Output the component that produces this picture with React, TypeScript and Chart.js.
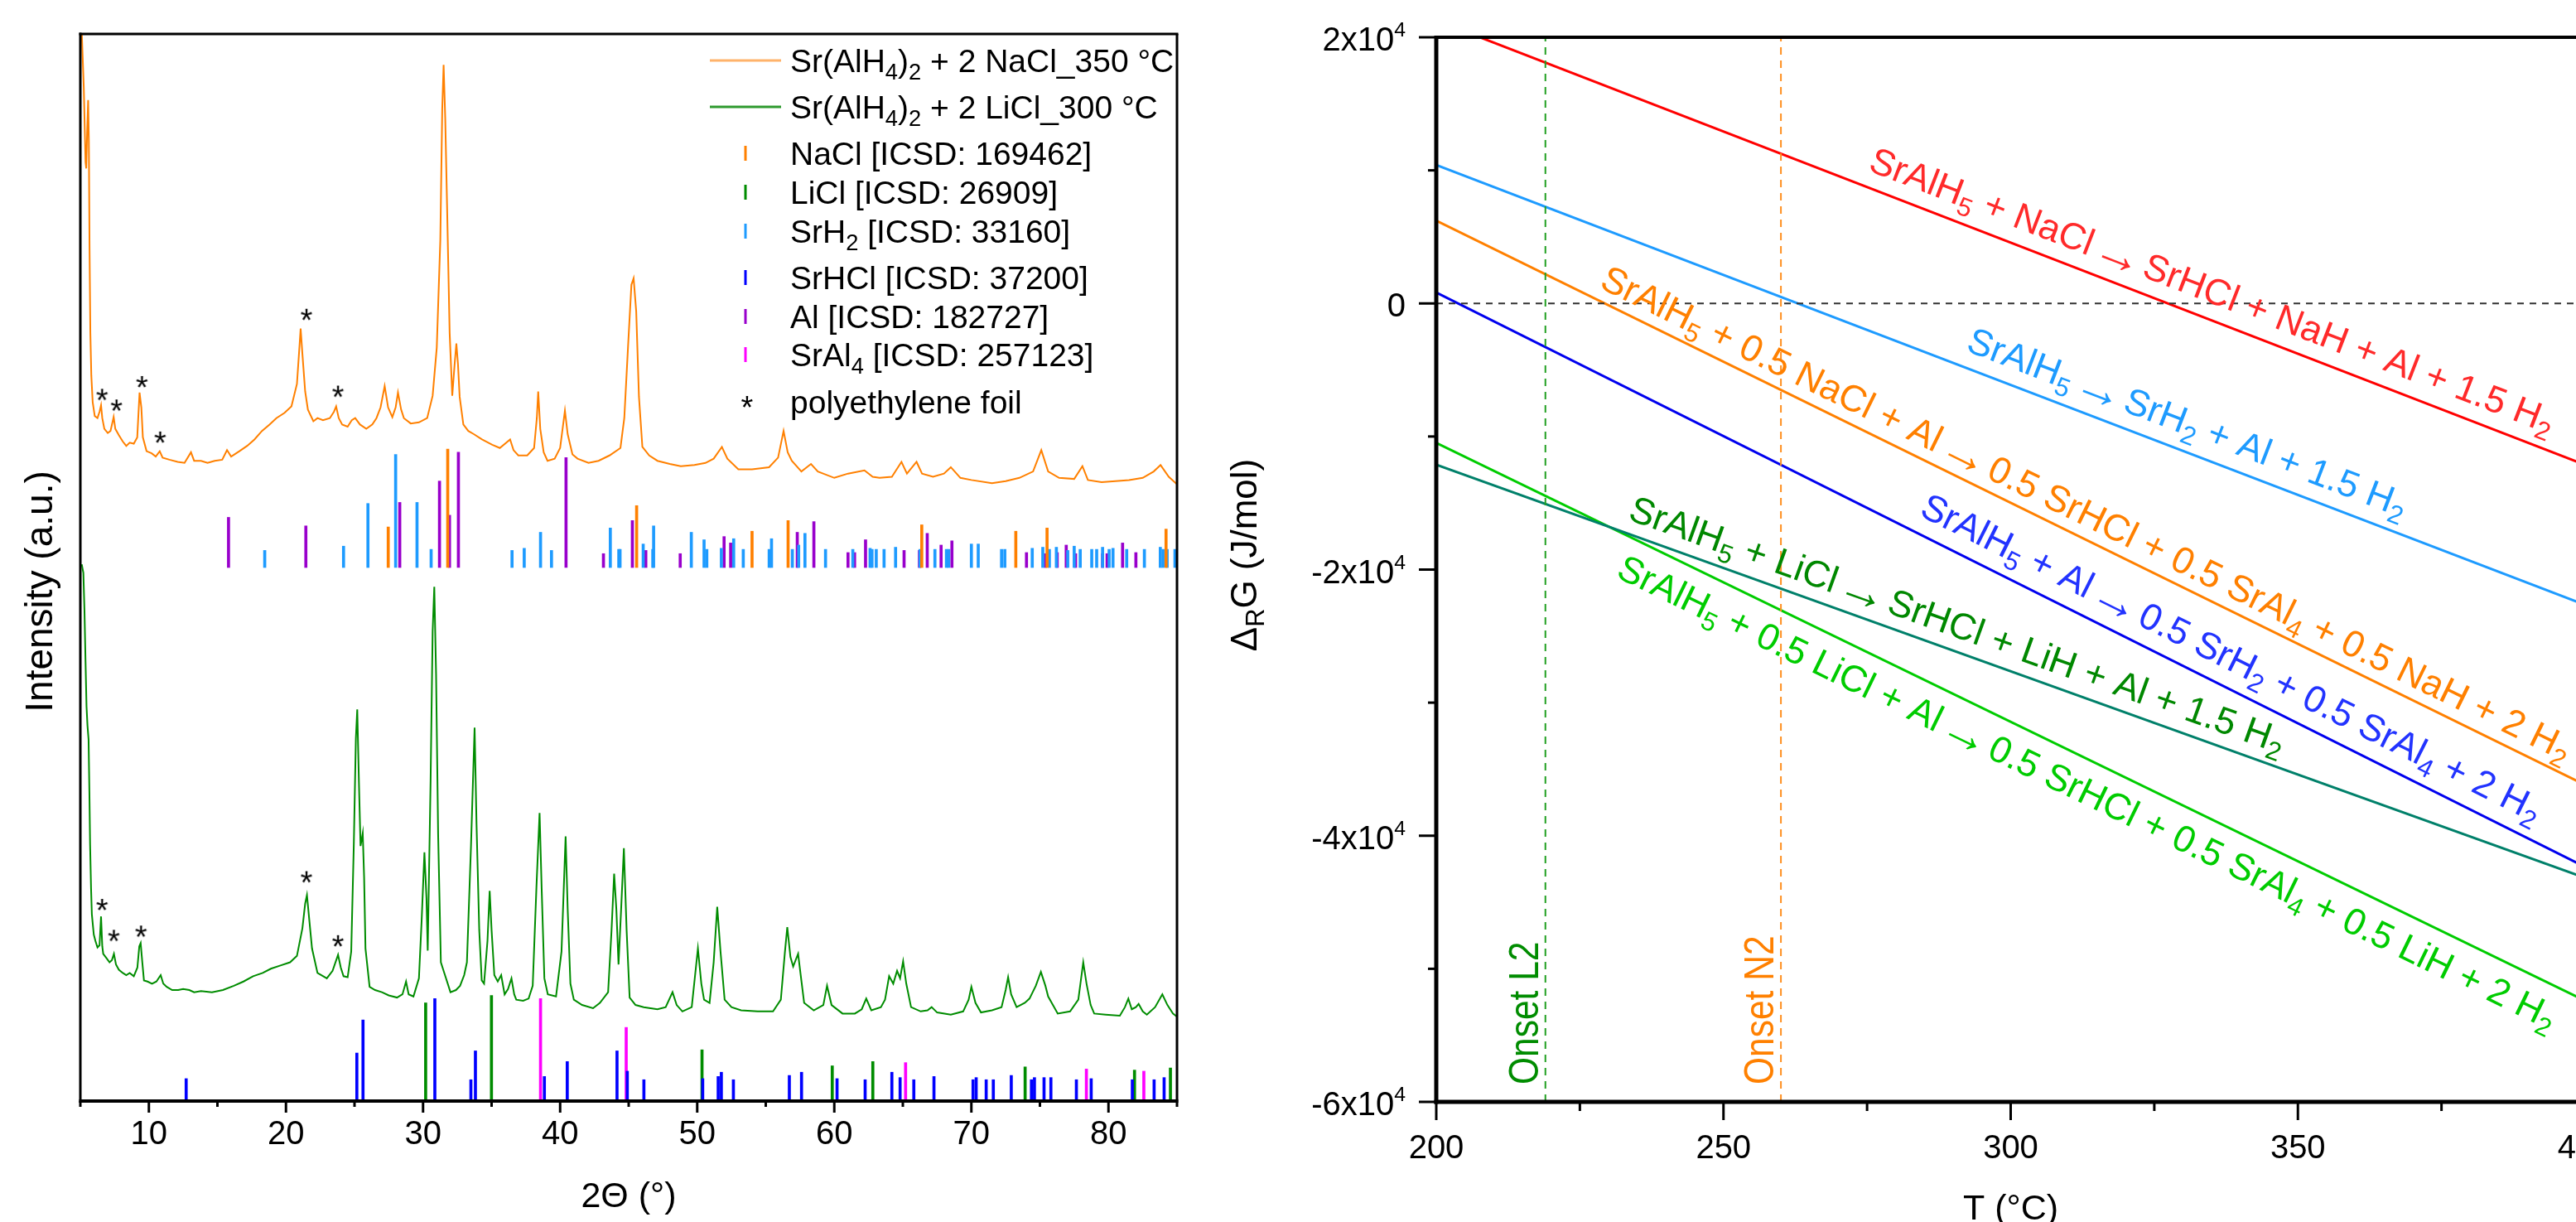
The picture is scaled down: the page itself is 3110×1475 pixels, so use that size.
import React, { useEffect, useRef } from 'react';
import { Chart, registerables } from 'chart.js';

Chart.register(...registerables);

const FONT = '"Liberation Sans", Arial, Helvetica, sans-serif';

// ================= LEFT PANEL: XRD =================
// [2θ, intensity (a.u.)]
const naclSamplePattern: [number, number][] = [
  [5.05,1020],[5.25,950],[5.38,880],[5.43,874],[5.5,910],[5.57,938],[5.62,900],[5.67,800],[5.73,720],[5.8,680],
  [5.9,655],[6.05,642],[6.25,640],[6.4,646],[6.51,652],[6.6,640],[6.75,630],[7.0,626],[7.2,628],[7.43,641],
  [7.55,630],[7.81,624],[8.1,618],[8.35,614],[8.6,617],[8.9,616],[9.15,622],[9.32,664],[9.45,650],[9.56,622],
  [9.83,609],[10.2,607],[10.5,604],[10.79,609],[11.0,603],[11.5,601],[12.1,599],[12.6,598],[13.07,608],[13.3,600],
  [13.8,600],[14.28,598],[14.8,600],[15.35,601],[15.7,610],[16.0,604],[16.6,609],[17.17,614],[17.7,620],[18.25,628],
  [18.8,634],[19.3,640],[19.9,645],[20.4,651],[20.8,672],[21.0,710],[21.07,724],[21.2,700],[21.4,665],[21.6,648],
  [22.0,637],[22.3,640],[22.7,638],[23.2,640],[23.5,646],[23.66,651],[23.85,640],[24.1,634],[24.5,632],[24.8,638],
  [25.05,640],[25.4,634],[25.86,630],[26.3,634],[26.6,640],[26.9,650],[27.2,670],[27.45,650],[27.76,641],[28.0,650],
  [28.17,664],[28.4,648],[28.6,640],[29.1,635],[29.7,636],[30.3,640],[30.7,661],[31.0,706],[31.26,807],[31.4,930],
  [31.5,971],[31.62,920],[31.75,840],[31.94,720],[32.13,661],[32.3,690],[32.43,710],[32.55,690],[32.67,660],[32.94,634],
  [33.3,628],[33.7,625],[34.3,620],[35.05,615],[35.6,612],[36.35,620],[36.6,610],[36.95,605],[37.6,605],[38.1,612],
  [38.3,640],[38.4,665],[38.55,630],[38.8,608],[39.08,600],[39.6,602],[40.0,612],[40.2,632],[40.35,647],[40.55,625],
  [40.9,606],[41.27,602],[42.07,598],[42.8,600],[43.6,605],[44.4,612],[44.68,640],[44.95,706],[45.2,765],[45.36,771],
  [45.55,740],[45.75,660],[46.0,613],[46.5,605],[47.1,600],[48.0,597],[48.8,595],[49.8,596],[50.6,598],[51.2,602],
  [51.8,613],[52.2,602],[53.0,592],[54.0,592],[55.24,594],[55.9,603],[56.3,628],[56.6,608],[56.9,600],[57.6,590],
  [58.3,597],[58.8,590],[60.0,584],[61.0,588],[62.2,591],[62.8,585],[63.3,584],[64.2,585],[64.9,599],[65.3,588],
  [66.0,599],[66.4,588],[67.2,585],[68.0,588],[68.5,594],[69.2,584],[70.0,582],[71.5,579],[72.5,581],[73.5,584],
  [74.5,590],[75.1,610],[75.6,590],[76.4,584],[77.5,583],[78.1,595],[78.5,582],[79.5,580],[80.5,581],[81.5,582],
  [82.5,584],[83.3,590],[83.8,596],[84.4,585],[85.0,578],
];

const liclSamplePattern: [number, number][] = [
  [5.1,503],[5.22,495],[5.3,460],[5.38,411],[5.45,370],[5.52,352],[5.6,339],[5.66,290],[5.71,241],[5.78,200],
  [5.84,175],[5.98,156],[6.1,150],[6.25,144],[6.4,146],[6.51,173],[6.6,145],[6.67,138],[6.9,134],[7.13,130],
  [7.3,132],[7.45,138],[7.6,128],[7.81,123],[8.1,120],[8.35,118],[8.6,120],[8.9,117],[9.16,125],[9.3,145],
  [9.4,148],[9.52,130],[9.64,113],[9.9,112],[10.23,110],[10.55,112],[10.86,118],[11.05,110],[11.3,107],[11.7,104],
  [12.14,104],[12.5,105],[12.95,104],[13.3,102],[13.8,103],[14.6,102],[15.4,104],[16.2,108],[16.9,112],[17.6,117],
  [18.3,120],[18.9,124],[19.6,127],[20.3,130],[20.8,136],[21.2,162],[21.4,185],[21.53,193],[21.7,170],[21.9,143],
  [22.3,120],[22.98,115],[23.4,122],[23.8,137],[24.0,125],[24.2,117],[24.5,116],[24.76,140],[24.95,241],[25.1,340],
  [25.2,367],[25.32,300],[25.44,239],[25.6,251],[25.7,210],[25.8,143],[26.1,107],[26.5,104],[27.0,102],[27.5,99],
  [28.1,97],[28.5,100],[28.76,112],[28.95,100],[29.3,98],[29.7,115],[29.9,170],[30.1,233],[30.25,190],[30.34,141],
  [30.55,300],[30.7,440],[30.82,482],[30.95,400],[31.1,250],[31.3,130],[31.6,118],[32.0,102],[32.4,104],[32.7,108],
  [33.0,118],[33.2,130],[33.5,240],[33.76,350],[33.9,260],[34.1,160],[34.28,113],[34.45,110],[34.7,150],[34.86,197],
  [35.0,160],[35.2,118],[35.45,112],[35.7,118],[35.95,100],[36.2,105],[36.45,115],[36.65,100],[36.8,95],[37.3,94],
  [37.7,96],[38.0,108],[38.27,200],[38.5,270],[38.65,200],[38.85,115],[39.1,100],[39.7,98],[40.1,140],[40.4,248],
  [40.55,180],[40.75,110],[41.0,95],[41.6,90],[42.4,87],[42.9,92],[43.5,102],[43.75,160],[43.94,213],[44.1,180],
  [44.26,128],[44.45,180],[44.65,237],[44.85,160],[45.07,97],[45.5,90],[46.1,88],[47.1,86],[47.7,88],[48.2,102],
  [48.5,90],[48.92,84],[49.6,88],[50.05,143],[50.3,110],[50.5,95],[50.9,92],[51.2,130],[51.46,182],[51.7,140],
  [52.0,95],[52.5,88],[53.2,85],[54.4,84],[55.53,84],[56.1,95],[56.4,140],[56.57,163],[56.8,135],[57.0,126],
  [57.36,138],[57.55,118],[57.8,92],[58.5,85],[59.2,90],[59.47,108],[59.8,90],[60.6,82],[61.5,82],[62.0,86],
  [62.33,96],[62.7,85],[63.4,88],[63.7,95],[64.0,117],[64.3,110],[64.58,122],[64.8,115],[65.02,131],[65.25,110],
  [65.6,88],[66.3,84],[66.8,85],[67.1,88],[67.5,83],[68.5,81],[69.4,84],[69.8,95],[70.0,107],[70.3,92],
  [70.7,83],[71.5,85],[72.2,88],[72.5,104],[72.68,116],[72.9,100],[73.3,88],[73.9,92],[74.24,96],[74.7,108],
  [75.07,121],[75.4,108],[75.6,98],[76.3,82],[77.2,84],[77.8,95],[78.16,130],[78.4,110],[78.7,90],[78.96,82],
  [79.8,81],[80.83,80],[81.2,88],[81.45,96],[81.7,86],[82.0,88],[82.2,91],[82.5,84],[82.8,81],[83.4,88],
  [83.93,100],[84.3,90],[84.7,82],[85.0,79],
];

// reference sticks: [2θ, top of stick]; upper group starts at 500, lower group at 0
const upperStickBase = 500;
const lowerStickBase = 0;
const naclRefSticks: [number, number][] = [
  [27.46,538],[31.8,611],[45.58,558],[54.0,534],[56.63,544],[66.38,540],[73.24,534],[75.52,537],[84.2,536],
];
const srh2RefSticks: [number, number][] = [
  [18.45,516],[24.2,520],[25.98,560],[28.0,606],[29.56,561],[30.59,517],[36.49,516],[37.38,518],[38.57,533],[39.37,516],
  [43.66,537],[44.28,517],[44.37,517],[46.06,522],[46.76,517],[46.82,539],[49.57,533],[50.5,526],[50.7,517],[51.76,518],
  [52.66,527],[53.36,517],[55.25,517],[55.42,527],[56.94,517],[57.4,521],[57.86,532],[59.36,517],[61.35,517],[62.61,518],
  [62.75,517],[63.06,517],[63.63,517],[64.47,519],[66.25,517],[67.34,517],[68.18,517],[68.34,517],[70.0,522],[70.5,522],
  [72.2,517],[72.44,517],[74.44,518],[75.21,519],[75.69,517],[76.2,519],[77.03,516],[77.5,520],[77.94,517],[78.78,517],
  [79.14,517],[79.57,519],[80.05,517],[80.33,518],[81.33,517],[82.62,517],[83.78,519],[83.98,517],[84.28,517],[84.85,517],
];
const alRefSticks: [number, number][] = [
  [15.81,547],[21.45,539],[28.3,561],[31.2,581],[31.93,549],[32.58,608],[40.43,603],[43.16,513],[45.27,544],[46.25,516],
  [48.76,513],[51.96,529],[52.44,523],[57.3,533],[58.51,543],[61.0,514],[61.48,514],[62.28,526],[65.09,516],[66.21,516],
  [66.78,532],[67.79,521],[68.58,525],[74.02,514],[75.4,513],[76.26,514],[76.92,521],[77.6,513],[79.57,513],[79.9,513],
  [81.03,523],[82.0,514],
];
const liclRefSticks: [number, number][] = [
  [30.19,92],[34.99,99],[50.35,48],[59.85,33],[62.81,37],[73.92,32],[81.9,29],[84.52,31],
];
const srhclRefSticks: [number, number][] = [
  [12.72,21],[25.17,45],[25.62,76],[30.86,96],[33.49,20],[33.82,47],[38.85,23],[40.52,37],[44.15,47],[44.9,28],
  [46.11,20],[50.4,21],[51.53,23],[51.76,27],[52.64,20],[56.72,24],[57.61,27],[60.2,21],[62.25,20],[64.2,27],
  [64.8,22],[65.8,20],[67.27,23],[70.12,20],[70.35,22],[71.08,20],[71.6,20],[72.91,24],[74.38,20],[74.6,22],
  [75.3,22],[75.8,22],[77.66,20],[78.74,21],[81.74,20],[83.33,20],[84.06,22],
];
const sral4RefSticks: [number, number][] = [
  [38.57,96],[44.82,69],[65.2,36],[78.39,30],[82.58,28],
];

// polyethylene foil markers
const foilMarksNaCl: [number, number][] = [[6.59,662],[7.64,652],[9.5,674],[10.83,622],[21.5,737],[23.8,665]];
const foilMarksLiCl: [number, number][] = [[6.59,184],[7.45,155],[9.43,159],[21.5,210],[23.8,150]];

const xrdMajorTicks = [10, 20, 30, 40, 50, 60, 70, 80];
const xrdMinorTicks = [5, 15, 25, 35, 45, 55, 65, 75, 85];

const legendLines = [
  { label: 'Sr(AlH_{4})_{2} + 2 NaCl_350 °C', color: '#FFB36B' },
  { label: 'Sr(AlH_{4})_{2} + 2 LiCl_300 °C', color: '#2E9A2E' },
];
const legendSticks = [
  { label: 'NaCl [ICSD: 169462]', color: '#FF8000' },
  { label: 'LiCl [ICSD: 26909]', color: '#008C00' },
  { label: 'SrH_{2} [ICSD: 33160]', color: '#1E9BFF' },
  { label: 'SrHCl [ICSD: 37200]', color: '#0000FF' },
  { label: 'Al [ICSD: 182727]', color: '#9900CC' },
  { label: 'SrAl_{4} [ICSD: 257123]', color: '#FF00FF' },
];
const legendFoilLabel = 'polyethylene foil';

// ================= RIGHT PANEL: ΔRG(T) =================
const reactionLabels = [
  'SrAlH_{5} + NaCl → SrHCl + NaH + Al + 1.5 H_{2}',
  'SrAlH_{5} → SrH_{2} + Al + 1.5 H_{2}',
  'SrAlH_{5} + 0.5 NaCl + Al → 0.5 SrHCl + 0.5 SrAl_{4} + 0.5 NaH + 2 H_{2}',
  'SrAlH_{5} + Al → 0.5 SrH_{2} + 0.5 SrAl_{4} + 2 H_{2}',
  'SrAlH_{5} + LiCl → SrHCl + LiH + Al + 1.5 H_{2}',
  'SrAlH_{5} + 0.5 LiCl + Al → 0.5 SrHCl + 0.5 SrAl_{4} + 0.5 LiH + 2 H_{2}',
];
const tempStart = 200;
const tempEnd = 400;
const dGAtStart = [21270, 10400, 6220, 822, -12120, -10480];
const dGAtEnd = [-12130, -22650, -36180, -42340, -43160, -52400];
const reactionLineColors = ['#FF0000', '#1E9BFF', '#FF8000', '#0000EE', '#00806A', '#00CC00'];
const reactionTextColors = ['#FF2A2A', '#1E9BFF', '#FF8000', '#2233FF', '#008800', '#00CC00'];
// label placement (styling): temperature where the text starts, perpendicular offset in px
const labelStartT = [274, 291, 227.3, 282.6, 232.4, 234.3];
const labelOffsetPx = [19, 19, 14, 20, 16, -51];

const onsetTemps = [219, 260];
const onsetLabels = ['Onset L2', 'Onset N2'];
const onsetColors = ['#008C00', '#FF8000'];
const onsetLineColors = ['#22A022', '#FF9020'];

const tempTicks = [200, 250, 300, 350, 400];
const tempMinorTicks = [225, 275, 325, 375];
const gibbsTicks = [20000, 0, -20000, -40000, -60000];
const gibbsTickLabels = ['2x10^{4}', '0', '-2x10^{4}', '-4x10^{4}', '-6x10^{4}'];
const gibbsMinorTicks = [10000, -10000, -30000, -50000];

// ================= helpers =================
type Seg = { t: string; s: number }; // 0 normal, 1 super, -1 sub, 2 arrow glyph
function parseRich(str: string): Seg[] {
  const raw: Seg[] = [];
  let buf = '';
  let i = 0;
  while (i < str.length) {
    const c = str[i];
    if ((c === '_' || c === '^') && str[i + 1] === '{') {
      if (buf) { raw.push({ t: buf, s: 0 }); buf = ''; }
      const end = str.indexOf('}', i + 2);
      raw.push({ t: str.slice(i + 2, end), s: c === '^' ? 1 : -1 });
      i = end + 1;
    } else {
      buf += c;
      i++;
    }
  }
  if (buf) raw.push({ t: buf, s: 0 });
  const out: Seg[] = [];
  for (const sg of raw) {
    if (sg.s !== 0 || sg.t.indexOf('→') < 0) { out.push(sg); continue; }
    const parts = sg.t.split('→');
    parts.forEach((p, k) => {
      if (p) out.push({ t: p, s: 0 });
      if (k < parts.length - 1) out.push({ t: '→', s: 2 });
    });
  }
  return out;
}

function drawRich(ctx: CanvasRenderingContext2D, str: string, x: number, y: number, size: number,
  color: string, align: 'left' | 'right' | 'center' = 'left') {
  const segs = parseRich(str);
  const fontFor = (s: number) =>
    s === 2 ? `${size * 1.35}px ${FONT}` :
    `${s === 0 ? size : s === 1 ? size * 0.62 : size * 0.7}px ${FONT}`;
  const advance = (sg: Seg) => {
    if (sg.s === 2) return size * 0.95;
    ctx.font = fontFor(sg.s);
    return ctx.measureText(sg.t).width;
  };
  let w = 0;
  for (const sg of segs) w += advance(sg);
  let cx = align === 'left' ? x : align === 'right' ? x - w : x - w / 2;
  ctx.fillStyle = color;
  ctx.textBaseline = 'alphabetic';
  for (const sg of segs) {
    const adv = advance(sg);
    ctx.font = fontFor(sg.s);
    if (sg.s === 2) {
      ctx.textAlign = 'center';
      ctx.fillText(sg.t, cx + adv / 2, y + size * 0.1);
    } else {
      ctx.textAlign = 'left';
      const dy = sg.s === 1 ? -size * 0.42 : sg.s === -1 ? size * 0.22 : 0;
      ctx.fillText(sg.t, cx, y + dy);
    }
    cx += adv;
  }
}

function seg(ctx: CanvasRenderingContext2D, x1: number, y1: number, x2: number, y2: number, w: number, color = '#000') {
  ctx.beginPath();
  ctx.moveTo(x1, y1);
  ctx.lineTo(x2, y2);
  ctx.lineWidth = w;
  ctx.strokeStyle = color;
  ctx.stroke();
}

function makeAsterisk(): HTMLCanvasElement {
  const c = document.createElement('canvas');
  c.width = 24; c.height = 24;
  const g = c.getContext('2d')!;
  g.font = `38px ${FONT}`;
  g.fillStyle = '#000';
  g.textAlign = 'center';
  g.textBaseline = 'alphabetic';
  const m = g.measureText('*');
  const asc = m.actualBoundingBoxAscent;
  const desc = m.actualBoundingBoxDescent;
  const baseline = 12 - (desc - asc) / 2;
  g.fillText('*', 12, baseline);
  return c;
}

const pts = (arr: [number, number][]) => arr.map(([x, y]) => ({ x, y }));
const sticks = (arr: [number, number][], base: number) => arr.map(([x, y]) => ({ x, y: [base, y] }));

function stickDataset(arr: [number, number][], base: number, color: string) {
  return {
    type: 'bar' as const,
    data: sticks(arr, base) as any,
    backgroundColor: color,
    borderWidth: 0,
    barThickness: 3,
    grouped: false,
    order: 5,
  };
}

// ================= charts =================
function leftConfig(star: HTMLCanvasElement): any {
  const decor = {
    id: 'xrdDecor',
    afterDraw(chart: any) {
      const { ctx, chartArea: a } = chart;
      const xs = chart.scales.x;
      ctx.save();
      ctx.lineCap = 'butt';
      // frame
      seg(ctx, a.left - 1.5, a.top, a.right + 1.5, a.top, 3);
      seg(ctx, a.right, a.top, a.right, a.bottom, 3);
      seg(ctx, a.left, a.top - 1.5, a.left, a.bottom + 2, 3);
      seg(ctx, a.left - 1.5, a.bottom, a.right + 1.5, a.bottom, 4);
      // ticks
      for (const t of xrdMajorTicks) { const px = xs.getPixelForValue(t); seg(ctx, px, a.bottom, px, a.bottom + 14, 3); }
      for (const t of xrdMinorTicks) { const px = xs.getPixelForValue(t); seg(ctx, px, a.bottom, px, a.bottom + 7, 3); }
      ctx.font = `40px ${FONT}`;
      ctx.fillStyle = '#000';
      ctx.textAlign = 'center';
      ctx.textBaseline = 'alphabetic';
      for (const t of xrdMajorTicks) {
        ctx.fillText(String(t), xs.getPixelForValue(t), a.bottom + 38 + 14.4);
      }
      // axis titles
      drawRich(ctx, '2Θ (°)', (a.left + a.right) / 2, 1441 + 15.5, 43, '#000', 'center');
      ctx.save();
      ctx.translate(46, 714);
      ctx.rotate(-Math.PI / 2);
      drawRich(ctx, 'Intensity (a.u.)', 0, 16.5, 46, '#000', 'center');
      ctx.restore();
      // legend
      const tx = 954;
      const rows = [73, 129, 185, 232, 279, 335, 382, 428, 485];
      legendLines.forEach((l, i) => {
        seg(ctx, 857, rows[i], 943, rows[i], 3, l.color);
        drawRich(ctx, l.label, tx, rows[i] + 14, 39, '#000');
      });
      legendSticks.forEach((l, i) => {
        const y = rows[i + 2];
        seg(ctx, 900, y - 9, 900, y + 9, 3, l.color);
        drawRich(ctx, l.label, tx, y + 14, 39, '#000');
      });
      ctx.drawImage(star, 902 - 12, rows[8] - 12);
      drawRich(ctx, legendFoilLabel, tx, rows[8] + 14, 39, '#000');
      ctx.restore();
    },
  };

  return {
    type: 'line',
    data: {
      datasets: [
        stickDataset(naclRefSticks, upperStickBase, '#FF8000'),
        stickDataset(srh2RefSticks, upperStickBase, '#1E9BFF'),
        stickDataset(alRefSticks, upperStickBase, '#9900CC'),
        stickDataset(srhclRefSticks, lowerStickBase, '#0000FF'),
        stickDataset(liclRefSticks, lowerStickBase, '#008C00'),
        stickDataset(sral4RefSticks, lowerStickBase, '#FF00FF'),
        {
          type: 'line', data: pts(naclSamplePattern), borderColor: '#FF8000', borderWidth: 2,
          pointRadius: 0, tension: 0, fill: false, order: 2,
        },
        {
          type: 'line', data: pts(liclSamplePattern), borderColor: '#008C00', borderWidth: 2,
          pointRadius: 0, tension: 0, fill: false, order: 2,
        },
        {
          type: 'line', data: pts([...foilMarksNaCl, ...foilMarksLiCl]), showLine: false,
          pointStyle: star, pointRadius: 10, order: 1,
        },
      ],
    },
    options: {
      responsive: false,
      animation: false,
      events: [],
      layout: { padding: { left: 97, top: 41, right: 29, bottom: 146 } },
      plugins: { legend: { display: false }, tooltip: { enabled: false } },
      scales: {
        x: { type: 'linear', min: 5, max: 85, display: false, offset: false },
        y: { type: 'linear', min: 0, max: 1000, display: false },
      },
    },
    plugins: [decor],
  };
}

function rightConfig(): any {
  const decor = {
    id: 'gibbsDecor',
    afterDraw(chart: any) {
      const { ctx, chartArea: a } = chart;
      const xs = chart.scales.x;
      const ys = chart.scales.y;
      ctx.save();
      ctx.lineCap = 'butt';
      // reaction labels
      reactionLabels.forEach((lab, i) => {
        const x1 = xs.getPixelForValue(tempStart), y1 = ys.getPixelForValue(dGAtStart[i]);
        const x2 = xs.getPixelForValue(tempEnd), y2 = ys.getPixelForValue(dGAtEnd[i]);
        const ang = Math.atan2(y2 - y1, x2 - x1);
        const f = (labelStartT[i] - tempStart) / (tempEnd - tempStart);
        ctx.save();
        ctx.translate(x1 + (x2 - x1) * f, y1 + (y2 - y1) * f);
        ctx.rotate(ang);
        drawRich(ctx, lab, 0, -labelOffsetPx[i], 45, reactionTextColors[i]);
        ctx.restore();
      });
      // onset labels
      onsetTemps.forEach((t, i) => {
        const px = xs.getPixelForValue(t);
        ctx.save();
        ctx.translate(px - 9, a.bottom - 21);
        ctx.rotate(-Math.PI / 2);
        ctx.scale(0.85, 1);
        ctx.font = `50px ${FONT}`;
        ctx.fillStyle = onsetColors[i];
        ctx.textAlign = 'left';
        ctx.textBaseline = 'alphabetic';
        ctx.fillText(onsetLabels[i], 0, 0);
        ctx.restore();
      });
      // frame
      seg(ctx, a.left - 2, a.top, a.right + 2, a.top, 4);
      seg(ctx, a.right, a.top, a.right, a.bottom, 4);
      seg(ctx, a.left, a.top - 2, a.left, a.bottom + 2.5, 5);
      seg(ctx, a.left - 2.5, a.bottom, a.right + 2, a.bottom, 5);
      // x ticks
      for (const t of tempTicks) { const px = xs.getPixelForValue(t); seg(ctx, px, a.bottom, px, a.bottom + 22, 3); }
      for (const t of tempMinorTicks) { const px = xs.getPixelForValue(t); seg(ctx, px, a.bottom, px, a.bottom + 11, 3); }
      ctx.font = `40px ${FONT}`;
      ctx.fillStyle = '#000';
      ctx.textAlign = 'center';
      ctx.textBaseline = 'alphabetic';
      for (const t of tempTicks) ctx.fillText(String(t), xs.getPixelForValue(t), a.bottom + 54 + 14.4);
      // y ticks
      for (const v of gibbsTicks) { const py = ys.getPixelForValue(v); seg(ctx, a.left - 21, py, a.left, py, 3); }
      for (const v of gibbsMinorTicks) { const py = ys.getPixelForValue(v); seg(ctx, a.left - 10, py, a.left, py, 3); }
      gibbsTicks.forEach((v, i) => {
        drawRich(ctx, gibbsTickLabels[i], a.left - 37, ys.getPixelForValue(v) + 16, 40, '#000', 'right');
      });
      // titles
      drawRich(ctx, 'T (°C)', xs.getPixelForValue(300), 1456 + 15.5, 43, '#000', 'center');
      ctx.save();
      ctx.translate(51, 670);
      ctx.rotate(-Math.PI / 2);
      drawRich(ctx, 'Δ_{R}G (J/mol)', 0, 15.5, 44, '#000', 'center');
      ctx.restore();
      ctx.restore();
    },
  };

  const reactionSets = reactionLabels.map((_, i) => ({
    type: 'line',
    data: [{ x: tempStart, y: dGAtStart[i] }, { x: tempEnd, y: dGAtEnd[i] }],
    borderColor: reactionLineColors[i],
    borderWidth: 3,
    pointRadius: 0,
    tension: 0,
    fill: false,
  }));
  const onsetSets = onsetTemps.map((t, i) => ({
    type: 'line',
    data: [{ x: t, y: -60000 }, { x: t, y: 20000 }],
    borderColor: onsetLineColors[i],
    borderWidth: 2,
    borderDash: [9, 7],
    pointRadius: 0,
    fill: false,
  }));
  const zeroSet = {
    type: 'line',
    data: [{ x: tempStart, y: 0 }, { x: tempEnd, y: 0 }],
    borderColor: '#333',
    borderWidth: 2,
    borderDash: [8, 7],
    pointRadius: 0,
    fill: false,
  };

  return {
    type: 'line',
    data: { datasets: [zeroSet, ...onsetSets, ...reactionSets] },
    options: {
      responsive: false,
      animation: false,
      events: [],
      layout: { padding: { left: 284, top: 45, right: 29, bottom: 145 } },
      plugins: { legend: { display: false }, tooltip: { enabled: false } },
      scales: {
        x: { type: 'linear', min: 200, max: 400, display: false },
        y: { type: 'linear', min: -60000, max: 20000, display: false },
      },
    },
    plugins: [decor],
  };
}

export default function App() {
  const leftRef = useRef<HTMLCanvasElement>(null);
  const rightRef = useRef<HTMLCanvasElement>(null);
  useEffect(() => {
    const star = makeAsterisk();
    const c1 = new Chart(leftRef.current!, leftConfig(star));
    const c2 = new Chart(rightRef.current!, rightConfig());
    return () => { c1.destroy(); c2.destroy(); };
  }, []);
  return (
    <div style={{ position: 'absolute', left: 0, top: 0, width: 3110, height: 1475, overflow: 'hidden', background: '#fff' }}>
      <canvas ref={leftRef} width={1450} height={1475}
        style={{ position: 'absolute', left: 0, top: 0, width: 1450, height: 1475 }} />
      <canvas ref={rightRef} width={1700} height={1475}
        style={{ position: 'absolute', left: 1450, top: 0, width: 1700, height: 1475 }} />
    </div>
  );
}
